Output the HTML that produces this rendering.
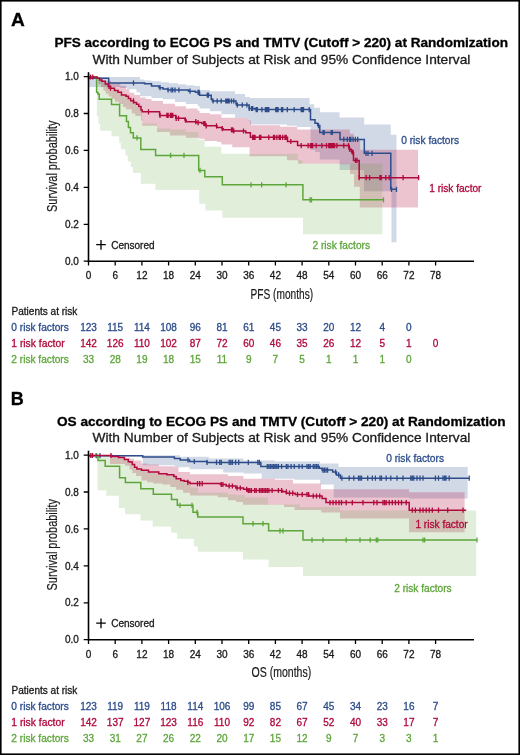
<!DOCTYPE html>
<html><head><meta charset="utf-8"><style>
html,body{margin:0;padding:0;background:#fff;width:520px;height:755px;overflow:hidden}
svg{display:block;will-change:transform}
text{font-family:"Liberation Sans",sans-serif;stroke:#1a1a1a;stroke-width:0.3px}
.t{font-size:10px}
.ti{font-size:12.8px;font-weight:bold;fill:#000;stroke:#000}
.st{font-size:13.2px}
.al{font-size:14px;stroke-width:0.2px}
.cl{font-size:10.2px}
.pl{font-size:18px;font-weight:bold;fill:#000;stroke:#000}
</style></head><body>
<svg width="520" height="755" viewBox="0 0 520 755" fill="#1a1a1a">
<rect x="0.8" y="0.8" width="518.4" height="753.4" fill="#fff" stroke="#000" stroke-width="1.6"/>
<text x="10.9" y="26.4" class="pl" textLength="13.8" lengthAdjust="spacingAndGlyphs">A</text>
<text x="10.8" y="405.2" class="pl">B</text>
<text x="54.4" y="47.2" class="ti" textLength="453.6" lengthAdjust="spacingAndGlyphs">PFS according to ECOG PS and TMTV (Cutoff &gt; 220) at Randomization</text>
<text x="92.5" y="63.8" class="st" textLength="377.9" lengthAdjust="spacingAndGlyphs">With Number of Subjects at Risk and 95% Confidence Interval</text>
<text x="56.9" y="425.7" class="ti" textLength="448.8" lengthAdjust="spacingAndGlyphs">OS according to ECOG PS and TMTV (Cutoff &gt; 220) at Randomization</text>
<text x="92.5" y="442.3" class="st" textLength="377.9" lengthAdjust="spacingAndGlyphs">With Number of Subjects at Risk and 95% Confidence Interval</text>
<path d="M88.5 77.0 L120.0 77.0 L120.0 77.0 L127.0 77.0 L127.0 77.0 L136.5 77.0 L136.5 77.0 L140.0 77.0 L140.0 79.4 L144.6 79.4 L144.6 80.5 L151.5 80.5 L151.5 81.3 L161.0 81.3 L161.0 82.2 L163.0 82.2 L163.0 82.2 L169.0 82.2 L169.0 83.3 L175.0 83.3 L175.0 83.3 L178.0 83.3 L178.0 84.2 L186.0 84.2 L186.0 85.2 L194.0 85.2 L194.0 86.0 L197.7 86.0 L197.7 86.0 L199.6 86.0 L199.6 86.0 L200.0 86.0 L200.0 90.0 L210.0 90.0 L210.0 91.2 L221.5 91.2 L221.5 91.2 L235.0 91.2 L235.0 94.0 L245.0 94.0 L245.0 97.0 L248.0 97.0 L248.0 97.0 L250.0 97.0 L250.0 98.1 L287.0 98.1 L287.0 98.1 L297.0 98.1 L297.0 98.1 L309.6 98.1 L309.6 104.2 L310.6 104.2 L310.6 104.2 L314.2 104.2 L314.2 107.7 L315.2 107.7 L315.2 107.7 L319.8 107.7 L319.8 107.7 L320.0 107.7 L320.0 112.3 L339.6 112.3 L339.6 117.5 L364.0 117.5 L364.0 117.5 L364.2 117.5 L364.2 124.4 L390.8 124.4 L390.8 134.8 L391.5 134.8 L391.5 134.8 L396.5 134.8 L396.5 242.3 L391.5 242.3 L391.5 191.3 L390.8 191.3 L390.8 191.3 L364.2 191.3 L364.2 191.3 L364.0 191.3 L364.0 170.0 L339.6 170.0 L339.6 159.6 L320.0 159.6 L320.0 159.6 L319.8 159.6 L319.8 152.0 L315.2 152.0 L315.2 150.0 L314.2 150.0 L314.2 150.0 L310.6 150.0 L310.6 127.0 L309.6 127.0 L309.6 127.0 L297.0 127.0 L297.0 125.8 L287.0 125.8 L287.0 124.6 L250.0 124.6 L250.0 121.0 L248.0 121.0 L248.0 117.7 L245.0 117.7 L245.0 117.7 L235.0 117.7 L235.0 114.2 L221.5 114.2 L221.5 111.3 L210.0 111.3 L210.0 108.5 L200.0 108.5 L200.0 108.5 L199.6 108.5 L199.6 106.2 L197.7 106.2 L197.7 104.0 L194.0 104.0 L194.0 104.0 L186.0 104.0 L186.0 102.0 L178.0 102.0 L178.0 102.0 L175.0 102.0 L175.0 99.2 L169.0 99.2 L169.0 99.2 L163.0 99.2 L163.0 98.1 L161.0 98.1 L161.0 98.1 L151.5 98.1 L151.5 96.3 L144.6 96.3 L144.6 96.3 L140.0 96.3 L140.0 92.2 L136.5 92.2 L136.5 89.3 L127.0 89.3 L127.0 88.0 L120.0 88.0 L120.0 87.0 L88.5 87.0Z" fill="#2c4c8a" fill-opacity="0.21"/>
<path d="M88.5 77.0 L97.2 77.0 L97.2 78.3 L98.4 78.3 L98.4 78.3 L101.2 78.3 L101.2 78.3 L103.0 78.3 L103.0 80.7 L103.5 80.7 L103.5 80.7 L105.8 80.7 L105.8 80.7 L108.7 80.7 L108.7 80.7 L111.0 80.7 L111.0 83.5 L111.5 83.5 L111.5 83.5 L115.0 83.5 L115.0 83.5 L119.0 83.5 L119.0 83.5 L120.3 83.5 L120.3 85.8 L123.0 85.8 L123.0 85.8 L126.0 85.8 L126.0 89.3 L129.5 89.3 L129.5 92.8 L131.8 92.8 L131.8 92.8 L134.2 92.8 L134.2 95.0 L135.3 95.0 L135.3 95.0 L140.0 95.0 L140.0 97.4 L141.0 97.4 L141.0 97.4 L142.2 97.4 L142.2 97.4 L145.7 97.4 L145.7 99.0 L151.5 99.0 L151.5 101.0 L157.0 101.0 L157.0 101.0 L163.0 101.0 L163.0 103.8 L170.0 103.8 L170.0 103.8 L175.0 103.8 L175.0 106.2 L186.0 106.2 L186.0 108.5 L197.7 108.5 L197.7 110.8 L199.0 110.8 L199.0 110.8 L199.6 110.8 L199.6 113.0 L204.6 113.0 L204.6 113.0 L210.0 113.0 L210.0 114.2 L217.3 114.2 L217.3 114.2 L221.3 114.2 L221.3 114.2 L221.5 114.2 L221.5 117.7 L232.3 117.7 L232.3 117.7 L248.0 117.7 L248.0 120.6 L249.6 120.6 L249.6 120.6 L251.0 120.6 L251.0 125.2 L280.0 125.2 L280.0 126.7 L287.0 126.7 L287.0 126.7 L297.3 126.7 L297.3 129.6 L297.9 129.6 L297.9 129.6 L340.0 129.6 L340.0 129.6 L349.8 129.6 L349.8 133.7 L350.0 133.7 L350.0 133.7 L353.8 133.7 L353.8 138.8 L354.0 138.8 L354.0 138.8 L359.8 138.8 L359.8 138.8 L360.2 138.8 L360.2 149.8 L418.0 149.8 L418.0 207.5 L360.2 207.5 L360.2 207.5 L359.8 207.5 L359.8 186.7 L354.0 186.7 L354.0 174.0 L353.8 174.0 L353.8 174.0 L350.0 174.0 L350.0 164.2 L349.8 164.2 L349.8 164.2 L340.0 164.2 L340.0 163.7 L297.9 163.7 L297.9 160.2 L297.3 160.2 L297.3 160.2 L287.0 160.2 L287.0 156.3 L280.0 156.3 L280.0 156.3 L251.0 156.3 L251.0 156.3 L249.6 156.3 L249.6 147.3 L248.0 147.3 L248.0 147.3 L232.3 147.3 L232.3 144.4 L221.5 144.4 L221.5 144.4 L221.3 144.4 L221.3 142.1 L217.3 142.1 L217.3 141.0 L210.0 141.0 L210.0 141.0 L204.6 141.0 L204.6 138.7 L199.6 138.7 L199.6 138.7 L199.0 138.7 L199.0 137.7 L197.7 137.7 L197.7 137.7 L186.0 137.7 L186.0 135.4 L175.0 135.4 L175.0 135.4 L170.0 135.4 L170.0 132.0 L163.0 132.0 L163.0 132.0 L157.0 132.0 L157.0 125.8 L151.5 125.8 L151.5 125.8 L145.7 125.8 L145.7 125.8 L142.2 125.8 L142.2 120.5 L141.0 120.5 L141.0 116.0 L140.0 116.0 L140.0 116.0 L135.3 116.0 L135.3 113.5 L134.2 113.5 L134.2 113.5 L131.8 113.5 L131.8 109.2 L129.5 109.2 L129.5 109.2 L126.0 109.2 L126.0 106.9 L123.0 106.9 L123.0 104.0 L120.3 104.0 L120.3 104.0 L119.0 104.0 L119.0 101.7 L115.0 101.7 L115.0 98.8 L111.5 98.8 L111.5 96.5 L111.0 96.5 L111.0 96.5 L108.7 96.5 L108.7 93.7 L105.8 93.7 L105.8 90.8 L103.5 90.8 L103.5 87.3 L103.0 87.3 L103.0 87.3 L101.2 87.3 L101.2 84.0 L98.4 84.0 L98.4 77.0 L97.2 77.0 L97.2 77.0 L88.5 77.0Z" fill="#b0093b" fill-opacity="0.24"/>
<path d="M88.5 77.0 L96.9 77.0 L96.9 77.0 L97.0 77.0 L97.0 79.5 L98.5 79.5 L98.5 79.5 L99.5 79.5 L99.5 81.0 L100.0 81.0 L100.0 81.0 L101.8 81.0 L101.8 82.2 L105.3 82.2 L105.3 85.1 L108.2 85.1 L108.2 87.4 L110.5 87.4 L110.5 89.2 L111.5 89.2 L111.5 89.2 L114.5 89.2 L114.5 91.5 L118.0 91.5 L118.0 93.2 L119.2 93.2 L119.2 93.2 L120.8 93.2 L120.8 93.2 L121.5 93.2 L121.5 96.0 L125.4 96.0 L125.4 96.0 L126.0 96.0 L126.0 97.2 L127.7 97.2 L127.7 97.2 L128.4 97.2 L128.4 99.5 L130.7 99.5 L130.7 101.8 L130.8 101.8 L130.8 101.8 L133.0 101.8 L133.0 101.8 L133.6 101.8 L133.6 103.6 L136.5 103.6 L136.5 105.3 L138.8 105.3 L138.8 107.6 L140.8 107.6 L140.8 107.6 L141.0 107.6 L141.0 111.0 L142.2 111.0 L142.2 123.5 L155.4 123.5 L155.4 123.5 L157.0 123.5 L157.0 128.5 L170.0 128.5 L170.0 129.6 L186.0 129.6 L186.0 132.0 L198.5 132.0 L198.5 139.8 L199.2 139.8 L199.2 139.8 L204.6 139.8 L204.6 146.7 L205.4 146.7 L205.4 146.7 L221.3 146.7 L221.3 153.7 L222.3 153.7 L222.3 153.7 L250.0 153.7 L250.0 153.9 L287.0 153.9 L287.0 153.8 L297.9 153.8 L297.9 160.2 L302.5 160.2 L302.5 163.7 L303.0 163.7 L303.0 163.7 L350.0 163.7 L350.0 163.7 L382.3 163.7 L382.3 234.2 L350.0 234.2 L350.0 234.2 L303.0 234.2 L303.0 217.7 L302.5 217.7 L302.5 217.7 L297.9 217.7 L297.9 217.7 L287.0 217.7 L287.0 217.7 L250.0 217.7 L250.0 217.7 L222.3 217.7 L222.3 210.6 L221.3 210.6 L221.3 210.6 L205.4 210.6 L205.4 203.8 L204.6 203.8 L204.6 203.8 L199.2 203.8 L199.2 190.0 L198.5 190.0 L198.5 190.0 L186.0 190.0 L186.0 190.0 L170.0 190.0 L170.0 190.0 L157.0 190.0 L157.0 190.0 L155.4 190.0 L155.4 183.8 L142.2 183.8 L142.2 183.8 L141.0 183.8 L141.0 183.8 L140.8 183.8 L140.8 173.0 L138.8 173.0 L138.8 173.0 L136.5 173.0 L136.5 173.0 L133.6 173.0 L133.6 173.0 L133.0 173.0 L133.0 167.0 L130.8 167.0 L130.8 161.5 L130.7 161.5 L130.7 161.5 L128.4 161.5 L128.4 161.5 L127.7 161.5 L127.7 155.4 L126.0 155.4 L126.0 155.4 L125.4 155.4 L125.4 149.2 L121.5 149.2 L121.5 149.2 L120.8 149.2 L120.8 143.0 L119.2 143.0 L119.2 136.2 L118.0 136.2 L118.0 136.2 L114.5 136.2 L114.5 136.2 L111.5 136.2 L111.5 130.8 L110.5 130.8 L110.5 130.8 L108.2 130.8 L108.2 130.8 L105.3 130.8 L105.3 130.8 L101.8 130.8 L101.8 130.8 L100.0 130.8 L100.0 123.8 L99.5 123.8 L99.5 123.8 L98.5 123.8 L98.5 116.2 L97.0 116.2 L97.0 116.2 L96.9 116.2 L96.9 77.0 L88.5 77.0Z" fill="#5ea63b" fill-opacity="0.19"/>
<path d="M88.5 78.3H108.7 V83.0H144.6 V83.7H151.5 V86.0H159.0 V87.7H163.0 V89.1H167.7 V90.0H188.5 V91.2H195.4 V92.3H199.6 V95.2H211.2 V99.2H212.3 V101.0H236.0 V103.8H236.5 V105.0H249.2 V108.5H255.0 V109.6H310.5 V119.8H315.0 V123.3H317.7 V125.6H319.8 V132.5H340.0 V139.4H364.3 V153.3H390.8 V189.3H397.0" stroke="#2c4c8a" stroke-width="1.5" fill="none"/>
<path d="M133.5 80.4V85.6M160.0 85.1V90.3M168.1 87.4V92.6M171.1 87.4V92.6M172.7 87.4V92.6M175.0 87.4V92.6M178.9 87.4V92.6M190.0 88.6V93.8M198.1 89.7V94.9M199.2 89.7V94.9M207.3 92.6V97.8M208.5 92.6V97.8M213.1 98.4V103.6M217.2 98.4V103.6M221.2 98.4V103.6M225.8 98.4V103.6M226.9 98.4V103.6M228.1 98.4V103.6M229.2 98.4V103.6M231.5 98.4V103.6M233.8 98.4V103.6M237.3 102.4V107.6M242.3 102.4V107.6M246.9 102.4V107.6M249.2 105.9V111.1M251.5 105.9V111.1M252.7 105.9V111.1M256.2 107.0V112.2M257.3 107.0V112.2M261.9 107.0V112.2M265.4 107.0V112.2M266.5 107.0V112.2M267.7 107.0V112.2M268.8 107.0V112.2M275.8 107.0V112.2M276.9 107.0V112.2M278.1 107.0V112.2M281.5 107.0V112.2M282.7 107.0V112.2M287.3 107.0V112.2M294.2 107.0V112.2M301.2 107.0V112.2M302.3 107.0V112.2M303.5 107.0V112.2M309.2 107.0V112.2M318.5 123.0V128.2M323.1 129.9V135.1M324.2 129.9V135.1M331.2 129.9V135.1M332.3 129.9V135.1M343.8 136.8V142.0M347.3 136.8V142.0M349.6 136.8V142.0M350.8 136.8V142.0M353.1 136.8V142.0M355.4 136.8V142.0M357.7 136.8V142.0M366.0 150.7V155.9M368.0 150.7V155.9M372.0 150.7V155.9M391.5 186.7V191.9M396.5 186.7V191.9" stroke="#2c4c8a" stroke-width="1.3" fill="none"/>
<path d="M88.5 77.0H96.6 V92.3H97.8 V94.0H99.2 V99.2H111.5 V104.4H119.6 V115.8H126.5 V121.5H128.4 V127.5H130.5 V132.8H133.3 V137.9H140.8 V149.6H155.6 V155.4H198.7 V170.4H204.8 V176.8H222.3 V184.8H302.9 V199.8H383.8" stroke="#5ea63b" stroke-width="1.5" fill="none"/>
<path d="M137.0 135.3V140.5M170.6 152.8V158.0M184.0 152.8V158.0M200.0 167.8V173.0M251.0 182.2V187.4M261.7 182.2V187.4M286.0 182.2V187.4M310.0 197.2V202.4M311.5 197.2V202.4M383.5 197.2V202.4" stroke="#5ea63b" stroke-width="1.3" fill="none"/>
<path d="M88.5 77.0H97.2 V78.3H99.5 V80.0H101.8 V81.2H105.3 V84.1H108.2 V86.4H110.5 V88.2H114.5 V90.5H118.0 V92.2H121.5 V95.0H126.0 V96.2H128.4 V98.5H130.7 V100.8H133.6 V102.6H136.5 V104.3H138.8 V106.6H141.0 V110.0H142.2 V111.8H159.6 V115.4H175.8 V118.3H185.0 V120.0H186.2 V121.7H196.5 V122.6H201.9 V123.5H205.4 V125.8H216.9 V127.5H222.1 V128.7H223.3 V129.8H233.1 V131.0H245.8 V132.7H250.4 V137.3H287.5 V141.5H297.6 V145.6H349.2 V149.2H351.2 V151.5H352.9 V152.7H353.5 V160.4H359.2 V177.7H419.2" stroke="#b0093b" stroke-width="1.5" fill="none"/>
<path d="M88.5 74.4V79.6M90.5 74.4V79.6M92.8 74.4V79.6M109.0 83.8V89.0M110.5 85.6V90.8M133.5 98.2V103.4M148.5 109.2V114.4M160.0 112.8V118.0M166.9 112.8V118.0M168.1 112.8V118.0M170.4 112.8V118.0M171.5 112.8V118.0M172.7 112.8V118.0M176.2 115.7V120.9M178.5 115.7V120.9M185.4 117.4V122.6M195.8 119.1V124.3M198.1 120.0V125.2M203.8 120.9V126.1M205.0 120.9V126.1M206.2 123.2V128.4M216.5 123.2V128.4M222.3 126.1V131.3M231.5 127.2V132.4M232.7 127.2V132.4M233.8 128.4V133.6M243.5 128.4V133.6M252.7 134.7V139.9M253.8 134.7V139.9M255.0 134.7V139.9M259.6 134.7V139.9M260.8 134.7V139.9M268.8 134.7V139.9M273.5 134.7V139.9M274.6 134.7V139.9M276.9 134.7V139.9M279.2 134.7V139.9M280.4 134.7V139.9M282.7 134.7V139.9M285.0 134.7V139.9M286.2 134.7V139.9M290.8 138.9V144.1M301.2 143.0V148.2M308.1 143.0V148.2M310.4 143.0V148.2M311.5 143.0V148.2M312.7 143.0V148.2M316.2 143.0V148.2M321.9 143.0V148.2M326.5 143.0V148.2M328.8 143.0V148.2M330.0 143.0V148.2M331.2 143.0V148.2M332.3 143.0V148.2M333.5 143.0V148.2M334.6 143.0V148.2M336.9 143.0V148.2M343.8 143.0V148.2M348.5 143.0V148.2M349.6 146.6V151.8M351.9 148.9V154.1M353.1 150.1V155.3M355.5 157.8V163.0M357.0 157.8V163.0M359.2 175.1V180.3M366.2 175.1V180.3M369.6 175.1V180.3M380.0 175.1V180.3M381.2 175.1V180.3M385.8 175.1V180.3M389.2 175.1V180.3M403.1 175.1V180.3M418.6 175.1V180.3" stroke="#b0093b" stroke-width="1.3" fill="none"/>
<path d="M88.3 455.3 L142.7 455.3 L142.7 455.3 L174.4 455.3 L174.4 455.3 L180.0 455.3 L180.0 456.7 L189.6 456.7 L189.6 456.7 L208.8 456.7 L208.8 458.6 L223.3 458.6 L223.3 458.6 L243.5 458.6 L243.5 460.5 L261.7 460.5 L261.7 460.5 L275.0 460.5 L275.0 461.5 L294.2 461.5 L294.2 461.5 L320.2 461.5 L320.2 463.4 L333.7 463.4 L333.7 463.4 L338.5 463.4 L338.5 467.0 L409.0 467.0 L409.0 467.0 L467.7 467.0 L467.7 498.4 L409.0 498.4 L409.0 497.5 L338.5 497.5 L338.5 497.5 L333.7 497.5 L333.7 484.5 L320.2 484.5 L320.2 479.7 L294.2 479.7 L294.2 478.8 L275.0 478.8 L275.0 478.8 L261.7 478.8 L261.7 473.6 L243.5 473.6 L243.5 472.6 L223.3 472.6 L223.3 469.2 L208.8 469.2 L208.8 469.2 L189.6 469.2 L189.6 467.2 L180.0 467.2 L180.0 467.2 L174.4 467.2 L174.4 465.3 L142.7 465.3 L142.7 456.5 L88.3 456.5Z" fill="#2c4c8a" fill-opacity="0.21"/>
<path d="M88.3 455.5 L110.0 455.5 L110.0 455.7 L118.5 455.7 L118.5 456.5 L125.0 456.5 L125.0 457.8 L129.5 457.8 L129.5 457.8 L130.0 457.8 L130.0 458.7 L132.3 458.7 L132.3 458.7 L134.0 458.7 L134.0 460.5 L136.0 460.5 L136.0 460.5 L141.5 460.5 L141.5 463.5 L147.3 463.5 L147.3 464.4 L153.1 464.4 L153.1 464.4 L158.8 464.4 L158.8 466.2 L162.3 466.2 L162.3 466.2 L170.4 466.2 L170.4 466.2 L173.8 466.2 L173.8 467.3 L176.2 467.3 L176.2 467.3 L178.5 467.3 L178.5 471.9 L183.1 471.9 L183.1 471.9 L190.0 471.9 L190.0 474.2 L217.7 474.2 L217.7 474.2 L228.0 474.2 L228.0 475.9 L236.2 475.9 L236.2 475.9 L243.0 475.9 L243.0 475.9 L243.5 475.9 L243.5 478.8 L275.0 478.8 L275.0 479.7 L284.0 479.7 L284.0 479.7 L293.0 479.7 L293.0 483.6 L294.6 483.6 L294.6 483.6 L321.0 483.6 L321.0 489.3 L321.2 489.3 L321.2 489.3 L340.0 489.3 L340.0 489.3 L409.0 489.3 L409.0 492.3 L464.6 492.3 L464.6 532.3 L409.0 532.3 L409.0 518.5 L340.0 518.5 L340.0 512.4 L321.2 512.4 L321.2 510.0 L321.0 510.0 L321.0 510.0 L294.6 510.0 L294.6 507.1 L293.0 507.1 L293.0 507.1 L284.0 507.1 L284.0 504.8 L275.0 504.8 L275.0 504.8 L243.5 504.8 L243.5 504.8 L243.0 504.8 L243.0 502.0 L236.2 502.0 L236.2 500.2 L228.0 500.2 L228.0 497.3 L217.7 497.3 L217.7 495.6 L190.0 495.6 L190.0 492.7 L183.1 492.7 L183.1 489.8 L178.5 489.8 L178.5 489.8 L176.2 489.8 L176.2 486.9 L173.8 486.9 L173.8 486.9 L170.4 486.9 L170.4 484.6 L162.3 484.6 L162.3 483.5 L158.8 483.5 L158.8 483.5 L153.1 483.5 L153.1 482.3 L147.3 482.3 L147.3 480.6 L141.5 480.6 L141.5 475.9 L136.0 475.9 L136.0 473.1 L134.0 473.1 L134.0 473.1 L132.3 473.1 L132.3 469.4 L130.0 469.4 L130.0 469.4 L129.5 469.4 L129.5 465.7 L125.0 465.7 L125.0 463.9 L118.5 463.9 L118.5 463.9 L110.0 463.9 L110.0 455.5 L88.3 455.5Z" fill="#b0093b" fill-opacity="0.24"/>
<path d="M88.3 455.5 L97.5 455.5 L97.5 455.5 L98.0 455.5 L98.0 456.7 L106.2 456.7 L106.2 456.7 L110.0 456.7 L110.0 458.0 L118.5 458.0 L118.5 458.2 L118.8 458.2 L118.8 458.2 L124.4 458.2 L124.4 460.5 L125.0 460.5 L125.0 460.5 L128.3 460.5 L128.3 462.8 L130.0 462.8 L130.0 463.1 L132.3 463.1 L132.3 465.4 L134.6 465.4 L134.6 468.3 L136.9 468.3 L136.9 470.0 L140.4 470.0 L140.4 470.0 L141.5 470.0 L141.5 471.2 L148.5 471.2 L148.5 472.9 L152.7 472.9 L152.7 472.9 L158.8 472.9 L158.8 474.7 L166.9 474.7 L166.9 475.8 L171.2 475.8 L171.2 475.8 L173.8 475.8 L173.8 477.5 L176.2 477.5 L176.2 479.8 L177.3 479.8 L177.3 479.8 L180.8 479.8 L180.8 481.6 L184.2 481.6 L184.2 482.2 L187.7 482.2 L187.7 484.5 L191.0 484.5 L191.0 487.4 L193.8 487.4 L193.8 487.4 L197.8 487.4 L197.8 487.4 L198.0 487.4 L198.0 492.7 L228.0 492.7 L228.0 494.4 L236.0 494.4 L236.0 495.0 L243.0 495.0 L243.0 495.0 L245.0 495.0 L245.0 497.5 L268.0 497.5 L268.0 504.5 L268.6 504.5 L268.6 504.5 L300.0 504.5 L300.0 507.0 L303.0 507.0 L303.0 507.0 L340.0 507.0 L340.0 510.5 L476.2 510.5 L476.2 576.0 L340.0 576.0 L340.0 576.0 L303.0 576.0 L303.0 567.0 L300.0 567.0 L300.0 567.0 L268.6 567.0 L268.6 559.4 L268.0 559.4 L268.0 559.4 L245.0 559.4 L245.0 559.4 L243.0 559.4 L243.0 551.7 L236.0 551.7 L236.0 551.7 L228.0 551.7 L228.0 551.7 L198.0 551.7 L198.0 551.7 L197.8 551.7 L197.8 546.2 L193.8 546.2 L193.8 538.8 L191.0 538.8 L191.0 538.8 L187.7 538.8 L187.7 538.8 L184.2 538.8 L184.2 538.8 L180.8 538.8 L180.8 538.8 L177.3 538.8 L177.3 532.7 L176.2 532.7 L176.2 532.7 L173.8 532.7 L173.8 532.7 L171.2 532.7 L171.2 526.5 L166.9 526.5 L166.9 526.5 L158.8 526.5 L158.8 526.5 L152.7 526.5 L152.7 520.4 L148.5 520.4 L148.5 520.4 L141.5 520.4 L141.5 520.4 L140.4 520.4 L140.4 514.2 L136.9 514.2 L136.9 514.2 L134.6 514.2 L134.6 514.2 L132.3 514.2 L132.3 514.2 L130.0 514.2 L130.0 514.2 L128.3 514.2 L128.3 514.2 L125.0 514.2 L125.0 508.0 L124.4 508.0 L124.4 508.0 L118.8 508.0 L118.8 495.7 L118.5 495.7 L118.5 495.7 L110.0 495.7 L110.0 495.7 L106.2 495.7 L106.2 490.3 L98.0 490.3 L98.0 490.3 L97.5 490.3 L97.5 455.5 L88.3 455.5Z" fill="#5ea63b" fill-opacity="0.19"/>
<path d="M88.3 455.7H142.7 V457.0H174.4 V458.6H180.2 V460.0H189.6 V461.5H207.0 V462.4H260.8 V466.5H319.2 V468.2H322.0 V470.1H332.7 V472.0H336.5 V474.9H340.4 V478.2H469.2" stroke="#2c4c8a" stroke-width="1.5" fill="none"/>
<path d="M96.5 453.1V458.3M100.0 453.1V458.3M188.0 457.4V462.6M194.3 458.9V464.1M207.0 459.8V465.0M216.5 459.8V465.0M219.7 459.8V465.0M221.3 459.8V465.0M229.2 459.8V465.0M230.8 459.8V465.0M232.4 459.8V465.0M235.6 459.8V465.0M238.7 459.8V465.0M248.3 459.8V465.0M257.8 459.8V465.0M259.4 459.8V465.0M267.3 463.9V469.1M268.9 463.9V469.1M270.5 463.9V469.1M272.1 463.9V469.1M273.7 463.9V469.1M275.2 463.9V469.1M276.8 463.9V469.1M278.4 463.9V469.1M281.6 463.9V469.1M286.3 463.9V469.1M287.9 463.9V469.1M291.1 463.9V469.1M294.3 463.9V469.1M299.0 463.9V469.1M302.2 463.9V469.1M307.0 463.9V469.1M308.6 463.9V469.1M310.2 463.9V469.1M313.3 463.9V469.1M314.9 463.9V469.1M316.5 463.9V469.1M318.1 463.9V469.1M322.9 467.5V472.7M324.4 467.5V472.7M326.0 467.5V472.7M327.6 467.5V472.7M335.6 469.4V474.6M338.7 472.3V477.5M341.9 475.6V480.8M349.2 475.6V480.8M353.8 475.6V480.8M358.5 475.6V480.8M360.0 475.6V480.8M361.5 475.6V480.8M367.7 475.6V480.8M372.3 475.6V480.8M375.4 475.6V480.8M380.0 475.6V480.8M381.5 475.6V480.8M386.2 475.6V480.8M390.8 475.6V480.8M397.0 475.6V480.8M403.0 475.6V480.8M410.8 475.6V480.8M412.3 475.6V480.8M413.8 475.6V480.8M417.0 475.6V480.8M420.0 475.6V480.8M423.0 475.6V480.8M435.4 475.6V480.8M438.5 475.6V480.8M443.0 475.6V480.8M444.6 475.6V480.8M446.0 475.6V480.8M449.2 475.6V480.8M469.2 475.6V480.8" stroke="#2c4c8a" stroke-width="1.3" fill="none"/>
<path d="M88.3 455.5H98.0 V460.5H105.2 V466.3H119.6 V477.8H125.4 V482.6H140.8 V488.8H153.3 V494.2H171.5 V499.5H177.3 V505.3H193.0 V512.3H197.8 V516.9H243.0 V523.7H268.6 V530.8H303.0 V540.0H477.0" stroke="#5ea63b" stroke-width="1.5" fill="none"/>
<path d="M96.0 452.9V458.1M180.0 502.7V507.9M192.0 502.7V507.9M197.0 509.7V514.9M253.0 521.1V526.3M263.0 521.1V526.3M280.0 528.2V533.4M283.0 528.2V533.4M312.0 537.4V542.6M323.0 537.4V542.6M346.2 537.4V542.6M360.0 537.4V542.6M370.2 537.4V542.6M376.3 537.4V542.6M377.8 537.4V542.6M423.0 537.4V542.6M424.6 537.4V542.6M477.0 537.4V542.6" stroke="#5ea63b" stroke-width="1.3" fill="none"/>
<path d="M88.3 455.5H112.0 V456.5H118.5 V457.4H124.4 V459.5H128.3 V461.8H130.0 V462.1H132.3 V464.4H134.6 V467.3H136.9 V469.0H141.5 V470.2H148.5 V471.9H158.8 V473.7H166.9 V474.8H173.8 V476.5H176.2 V478.8H180.8 V480.6H184.2 V481.2H187.7 V482.3H190.0 V483.6H220.4 V484.5H226.2 V486.0H235.8 V488.0H243.5 V489.3H247.3 V490.5H282.7 V491.8H286.5 V493.2H295.2 V494.5H308.7 V496.0H322.1 V498.4H326.0 V502.6H409.2 V510.2H466.2" stroke="#b0093b" stroke-width="1.5" fill="none"/>
<path d="M90.8 452.9V458.1M92.5 452.9V458.1M111.0 452.9V458.1M187.9 479.7V484.9M197.5 481.0V486.2M199.7 481.0V486.2M202.2 481.0V486.2M221.3 481.9V487.1M222.9 481.9V487.1M229.2 483.4V488.6M232.4 483.4V488.6M237.1 485.4V490.6M240.3 485.4V490.6M246.7 486.7V491.9M248.3 487.9V493.1M249.8 487.9V493.1M251.4 487.9V493.1M254.6 487.9V493.1M256.2 487.9V493.1M259.4 487.9V493.1M261.0 487.9V493.1M262.5 487.9V493.1M264.1 487.9V493.1M265.7 487.9V493.1M267.3 487.9V493.1M268.9 487.9V493.1M272.1 487.9V493.1M278.4 487.9V493.1M281.6 487.9V493.1M286.3 489.2V494.4M289.5 490.6V495.8M292.7 490.6V495.8M297.5 491.9V497.1M302.2 491.9V497.1M307.0 491.9V497.1M308.6 491.9V497.1M313.3 493.4V498.6M316.5 493.4V498.6M319.7 493.4V498.6M330.0 500.0V505.2M333.0 500.0V505.2M336.0 500.0V505.2M339.0 500.0V505.2M341.5 500.0V505.2M346.2 500.0V505.2M352.3 500.0V505.2M363.0 500.0V505.2M373.8 500.0V505.2M377.0 500.0V505.2M383.0 500.0V505.2M384.6 500.0V505.2M386.2 500.0V505.2M389.2 500.0V505.2M392.3 500.0V505.2M395.4 500.0V505.2M398.5 500.0V505.2M401.5 500.0V505.2M406.2 500.0V505.2M412.3 507.6V512.8M415.4 507.6V512.8M420.0 507.6V512.8M423.0 507.6V512.8M426.2 507.6V512.8M429.2 507.6V512.8M432.3 507.6V512.8M438.5 507.6V512.8M447.7 507.6V512.8M463.0 507.6V512.8" stroke="#b0093b" stroke-width="1.3" fill="none"/>
<path d="M88.5 72.2V262.0" stroke="#000" stroke-width="1.6"/>
<path d="M87.7 261.2H474" stroke="#000" stroke-width="1.6"/>
<path d="M88.5 261.2V265.5M115.2 261.2V265.5M141.9 261.2V265.5M168.6 261.2V265.5M195.3 261.2V265.5M222.0 261.2V265.5M248.7 261.2V265.5M275.4 261.2V265.5M302.1 261.2V265.5M328.8 261.2V265.5M355.5 261.2V265.5M382.2 261.2V265.5M408.9 261.2V265.5M435.6 261.2V265.5M83.7 261.2H88.5M83.7 224.3H88.5M83.7 187.4H88.5M83.7 150.4H88.5M83.7 113.5H88.5M83.7 76.6H88.5" stroke="#000" stroke-width="1.3"/>
<text x="88.5" y="279.4" text-anchor="middle" class="t">0</text>
<text x="115.2" y="279.4" text-anchor="middle" class="t">6</text>
<text x="141.9" y="279.4" text-anchor="middle" class="t">12</text>
<text x="168.6" y="279.4" text-anchor="middle" class="t">18</text>
<text x="195.3" y="279.4" text-anchor="middle" class="t">24</text>
<text x="222.0" y="279.4" text-anchor="middle" class="t">30</text>
<text x="248.7" y="279.4" text-anchor="middle" class="t">36</text>
<text x="275.4" y="279.4" text-anchor="middle" class="t">42</text>
<text x="302.1" y="279.4" text-anchor="middle" class="t">48</text>
<text x="328.8" y="279.4" text-anchor="middle" class="t">54</text>
<text x="355.5" y="279.4" text-anchor="middle" class="t">60</text>
<text x="382.2" y="279.4" text-anchor="middle" class="t">66</text>
<text x="408.9" y="279.4" text-anchor="middle" class="t">72</text>
<text x="435.6" y="279.4" text-anchor="middle" class="t">78</text>
<text x="78.8" y="264.8" text-anchor="end" class="t">0.0</text>
<text x="78.8" y="227.9" text-anchor="end" class="t">0.2</text>
<text x="78.8" y="191.0" text-anchor="end" class="t">0.4</text>
<text x="78.8" y="154.0" text-anchor="end" class="t">0.6</text>
<text x="78.8" y="117.1" text-anchor="end" class="t">0.8</text>
<text x="78.8" y="80.2" text-anchor="end" class="t">1.0</text>
<text x="250.6" y="298.8" class="al" textLength="62.5" lengthAdjust="spacingAndGlyphs">PFS (months)</text>
<text transform="translate(56.7 166.2) rotate(-90)" text-anchor="middle" class="al" textLength="91.4" lengthAdjust="spacingAndGlyphs">Survival probability</text>
<path d="M96.2 244.6H105.8M101 240.0V249.7" stroke="#000" stroke-width="1.3"/>
<text x="111.2" y="248.5" class="t" textLength="43.4" lengthAdjust="spacingAndGlyphs">Censored</text>
<path d="M88.5 450.7V640.5" stroke="#000" stroke-width="1.6"/>
<path d="M87.7 639.7H474" stroke="#000" stroke-width="1.6"/>
<path d="M88.5 639.7V644.0M115.2 639.7V644.0M141.9 639.7V644.0M168.6 639.7V644.0M195.3 639.7V644.0M222.0 639.7V644.0M248.7 639.7V644.0M275.4 639.7V644.0M302.1 639.7V644.0M328.8 639.7V644.0M355.5 639.7V644.0M382.2 639.7V644.0M408.9 639.7V644.0M435.6 639.7V644.0M83.7 639.7H88.5M83.7 602.8H88.5M83.7 565.9H88.5M83.7 528.9H88.5M83.7 492.0H88.5M83.7 455.1H88.5" stroke="#000" stroke-width="1.3"/>
<text x="88.5" y="657.9" text-anchor="middle" class="t">0</text>
<text x="115.2" y="657.9" text-anchor="middle" class="t">6</text>
<text x="141.9" y="657.9" text-anchor="middle" class="t">12</text>
<text x="168.6" y="657.9" text-anchor="middle" class="t">18</text>
<text x="195.3" y="657.9" text-anchor="middle" class="t">24</text>
<text x="222.0" y="657.9" text-anchor="middle" class="t">30</text>
<text x="248.7" y="657.9" text-anchor="middle" class="t">36</text>
<text x="275.4" y="657.9" text-anchor="middle" class="t">42</text>
<text x="302.1" y="657.9" text-anchor="middle" class="t">48</text>
<text x="328.8" y="657.9" text-anchor="middle" class="t">54</text>
<text x="355.5" y="657.9" text-anchor="middle" class="t">60</text>
<text x="382.2" y="657.9" text-anchor="middle" class="t">66</text>
<text x="408.9" y="657.9" text-anchor="middle" class="t">72</text>
<text x="435.6" y="657.9" text-anchor="middle" class="t">78</text>
<text x="78.8" y="643.3" text-anchor="end" class="t">0.0</text>
<text x="78.8" y="606.4" text-anchor="end" class="t">0.2</text>
<text x="78.8" y="569.5" text-anchor="end" class="t">0.4</text>
<text x="78.8" y="532.5" text-anchor="end" class="t">0.6</text>
<text x="78.8" y="495.6" text-anchor="end" class="t">0.8</text>
<text x="78.8" y="458.7" text-anchor="end" class="t">1.0</text>
<text x="251.5" y="677.3" class="al" textLength="59.7" lengthAdjust="spacingAndGlyphs">OS (months)</text>
<text transform="translate(56.7 544.7) rotate(-90)" text-anchor="middle" class="al" textLength="91.4" lengthAdjust="spacingAndGlyphs">Survival probability</text>
<path d="M96.2 623.1H105.8M101 618.5V628.2" stroke="#000" stroke-width="1.3"/>
<text x="111.2" y="627.0" class="t" textLength="43.4" lengthAdjust="spacingAndGlyphs">Censored</text>
<text x="401.2" y="144.3" class="cl" style="fill:#2c4c8a;stroke:#2c4c8a" textLength="57.8" lengthAdjust="spacingAndGlyphs">0 risk factors</text>
<text x="429.2" y="191.8" class="cl" style="fill:#b0093b;stroke:#b0093b" textLength="52.3" lengthAdjust="spacingAndGlyphs">1 risk factor</text>
<text x="312.5" y="248.5" class="cl" style="fill:#5ea63b;stroke:#5ea63b" textLength="57.5" lengthAdjust="spacingAndGlyphs">2 risk factors</text>
<text x="386.2" y="461.5" class="cl" style="fill:#2c4c8a;stroke:#2c4c8a" textLength="57.8" lengthAdjust="spacingAndGlyphs">0 risk factors</text>
<text x="415.4" y="527.7" class="cl" style="fill:#b0093b;stroke:#b0093b" textLength="52.3" lengthAdjust="spacingAndGlyphs">1 risk factor</text>
<text x="394.2" y="592.3" class="cl" style="fill:#5ea63b;stroke:#5ea63b" textLength="57.5" lengthAdjust="spacingAndGlyphs">2 risk factors</text>
<text x="11.5" y="315.0" class="t" textLength="65.9" lengthAdjust="spacingAndGlyphs">Patients at risk</text>
<text x="11.3" y="331.0" class="t" style="fill:#2c4c8a;stroke:#2c4c8a" textLength="57.5" lengthAdjust="spacingAndGlyphs">0 risk factors</text>
<text x="88.5" y="331.0" class="t" text-anchor="middle" style="fill:#2c4c8a;stroke:#2c4c8a">123</text>
<text x="115.2" y="331.0" class="t" text-anchor="middle" style="fill:#2c4c8a;stroke:#2c4c8a">115</text>
<text x="141.9" y="331.0" class="t" text-anchor="middle" style="fill:#2c4c8a;stroke:#2c4c8a">114</text>
<text x="168.6" y="331.0" class="t" text-anchor="middle" style="fill:#2c4c8a;stroke:#2c4c8a">108</text>
<text x="195.3" y="331.0" class="t" text-anchor="middle" style="fill:#2c4c8a;stroke:#2c4c8a">96</text>
<text x="222.0" y="331.0" class="t" text-anchor="middle" style="fill:#2c4c8a;stroke:#2c4c8a">81</text>
<text x="248.7" y="331.0" class="t" text-anchor="middle" style="fill:#2c4c8a;stroke:#2c4c8a">61</text>
<text x="275.4" y="331.0" class="t" text-anchor="middle" style="fill:#2c4c8a;stroke:#2c4c8a">45</text>
<text x="302.1" y="331.0" class="t" text-anchor="middle" style="fill:#2c4c8a;stroke:#2c4c8a">33</text>
<text x="328.8" y="331.0" class="t" text-anchor="middle" style="fill:#2c4c8a;stroke:#2c4c8a">20</text>
<text x="355.5" y="331.0" class="t" text-anchor="middle" style="fill:#2c4c8a;stroke:#2c4c8a">12</text>
<text x="382.2" y="331.0" class="t" text-anchor="middle" style="fill:#2c4c8a;stroke:#2c4c8a">4</text>
<text x="408.9" y="331.0" class="t" text-anchor="middle" style="fill:#2c4c8a;stroke:#2c4c8a">0</text>
<text x="11.3" y="347.0" class="t" style="fill:#b0093b;stroke:#b0093b" textLength="53.3" lengthAdjust="spacingAndGlyphs">1 risk factor</text>
<text x="88.5" y="347.0" class="t" text-anchor="middle" style="fill:#b0093b;stroke:#b0093b">142</text>
<text x="115.2" y="347.0" class="t" text-anchor="middle" style="fill:#b0093b;stroke:#b0093b">126</text>
<text x="141.9" y="347.0" class="t" text-anchor="middle" style="fill:#b0093b;stroke:#b0093b">110</text>
<text x="168.6" y="347.0" class="t" text-anchor="middle" style="fill:#b0093b;stroke:#b0093b">102</text>
<text x="195.3" y="347.0" class="t" text-anchor="middle" style="fill:#b0093b;stroke:#b0093b">87</text>
<text x="222.0" y="347.0" class="t" text-anchor="middle" style="fill:#b0093b;stroke:#b0093b">72</text>
<text x="248.7" y="347.0" class="t" text-anchor="middle" style="fill:#b0093b;stroke:#b0093b">60</text>
<text x="275.4" y="347.0" class="t" text-anchor="middle" style="fill:#b0093b;stroke:#b0093b">46</text>
<text x="302.1" y="347.0" class="t" text-anchor="middle" style="fill:#b0093b;stroke:#b0093b">35</text>
<text x="328.8" y="347.0" class="t" text-anchor="middle" style="fill:#b0093b;stroke:#b0093b">26</text>
<text x="355.5" y="347.0" class="t" text-anchor="middle" style="fill:#b0093b;stroke:#b0093b">12</text>
<text x="382.2" y="347.0" class="t" text-anchor="middle" style="fill:#b0093b;stroke:#b0093b">5</text>
<text x="408.9" y="347.0" class="t" text-anchor="middle" style="fill:#b0093b;stroke:#b0093b">1</text>
<text x="435.6" y="347.0" class="t" text-anchor="middle" style="fill:#b0093b;stroke:#b0093b">0</text>
<text x="11.3" y="363.0" class="t" style="fill:#5ea63b;stroke:#5ea63b" textLength="57.5" lengthAdjust="spacingAndGlyphs">2 risk factors</text>
<text x="88.5" y="363.0" class="t" text-anchor="middle" style="fill:#5ea63b;stroke:#5ea63b">33</text>
<text x="115.2" y="363.0" class="t" text-anchor="middle" style="fill:#5ea63b;stroke:#5ea63b">28</text>
<text x="141.9" y="363.0" class="t" text-anchor="middle" style="fill:#5ea63b;stroke:#5ea63b">19</text>
<text x="168.6" y="363.0" class="t" text-anchor="middle" style="fill:#5ea63b;stroke:#5ea63b">18</text>
<text x="195.3" y="363.0" class="t" text-anchor="middle" style="fill:#5ea63b;stroke:#5ea63b">15</text>
<text x="222.0" y="363.0" class="t" text-anchor="middle" style="fill:#5ea63b;stroke:#5ea63b">11</text>
<text x="248.7" y="363.0" class="t" text-anchor="middle" style="fill:#5ea63b;stroke:#5ea63b">9</text>
<text x="275.4" y="363.0" class="t" text-anchor="middle" style="fill:#5ea63b;stroke:#5ea63b">7</text>
<text x="302.1" y="363.0" class="t" text-anchor="middle" style="fill:#5ea63b;stroke:#5ea63b">5</text>
<text x="328.8" y="363.0" class="t" text-anchor="middle" style="fill:#5ea63b;stroke:#5ea63b">1</text>
<text x="355.5" y="363.0" class="t" text-anchor="middle" style="fill:#5ea63b;stroke:#5ea63b">1</text>
<text x="382.2" y="363.0" class="t" text-anchor="middle" style="fill:#5ea63b;stroke:#5ea63b">1</text>
<text x="408.9" y="363.0" class="t" text-anchor="middle" style="fill:#5ea63b;stroke:#5ea63b">0</text>
<text x="11.5" y="693.5" class="t" textLength="65.9" lengthAdjust="spacingAndGlyphs">Patients at risk</text>
<text x="11.3" y="709.5" class="t" style="fill:#2c4c8a;stroke:#2c4c8a" textLength="57.5" lengthAdjust="spacingAndGlyphs">0 risk factors</text>
<text x="88.5" y="709.5" class="t" text-anchor="middle" style="fill:#2c4c8a;stroke:#2c4c8a">123</text>
<text x="115.2" y="709.5" class="t" text-anchor="middle" style="fill:#2c4c8a;stroke:#2c4c8a">119</text>
<text x="141.9" y="709.5" class="t" text-anchor="middle" style="fill:#2c4c8a;stroke:#2c4c8a">119</text>
<text x="168.6" y="709.5" class="t" text-anchor="middle" style="fill:#2c4c8a;stroke:#2c4c8a">118</text>
<text x="195.3" y="709.5" class="t" text-anchor="middle" style="fill:#2c4c8a;stroke:#2c4c8a">114</text>
<text x="222.0" y="709.5" class="t" text-anchor="middle" style="fill:#2c4c8a;stroke:#2c4c8a">106</text>
<text x="248.7" y="709.5" class="t" text-anchor="middle" style="fill:#2c4c8a;stroke:#2c4c8a">99</text>
<text x="275.4" y="709.5" class="t" text-anchor="middle" style="fill:#2c4c8a;stroke:#2c4c8a">85</text>
<text x="302.1" y="709.5" class="t" text-anchor="middle" style="fill:#2c4c8a;stroke:#2c4c8a">67</text>
<text x="328.8" y="709.5" class="t" text-anchor="middle" style="fill:#2c4c8a;stroke:#2c4c8a">45</text>
<text x="355.5" y="709.5" class="t" text-anchor="middle" style="fill:#2c4c8a;stroke:#2c4c8a">34</text>
<text x="382.2" y="709.5" class="t" text-anchor="middle" style="fill:#2c4c8a;stroke:#2c4c8a">23</text>
<text x="408.9" y="709.5" class="t" text-anchor="middle" style="fill:#2c4c8a;stroke:#2c4c8a">16</text>
<text x="435.6" y="709.5" class="t" text-anchor="middle" style="fill:#2c4c8a;stroke:#2c4c8a">7</text>
<text x="11.3" y="725.5" class="t" style="fill:#b0093b;stroke:#b0093b" textLength="53.3" lengthAdjust="spacingAndGlyphs">1 risk factor</text>
<text x="88.5" y="725.5" class="t" text-anchor="middle" style="fill:#b0093b;stroke:#b0093b">142</text>
<text x="115.2" y="725.5" class="t" text-anchor="middle" style="fill:#b0093b;stroke:#b0093b">137</text>
<text x="141.9" y="725.5" class="t" text-anchor="middle" style="fill:#b0093b;stroke:#b0093b">127</text>
<text x="168.6" y="725.5" class="t" text-anchor="middle" style="fill:#b0093b;stroke:#b0093b">123</text>
<text x="195.3" y="725.5" class="t" text-anchor="middle" style="fill:#b0093b;stroke:#b0093b">116</text>
<text x="222.0" y="725.5" class="t" text-anchor="middle" style="fill:#b0093b;stroke:#b0093b">110</text>
<text x="248.7" y="725.5" class="t" text-anchor="middle" style="fill:#b0093b;stroke:#b0093b">92</text>
<text x="275.4" y="725.5" class="t" text-anchor="middle" style="fill:#b0093b;stroke:#b0093b">82</text>
<text x="302.1" y="725.5" class="t" text-anchor="middle" style="fill:#b0093b;stroke:#b0093b">67</text>
<text x="328.8" y="725.5" class="t" text-anchor="middle" style="fill:#b0093b;stroke:#b0093b">52</text>
<text x="355.5" y="725.5" class="t" text-anchor="middle" style="fill:#b0093b;stroke:#b0093b">40</text>
<text x="382.2" y="725.5" class="t" text-anchor="middle" style="fill:#b0093b;stroke:#b0093b">33</text>
<text x="408.9" y="725.5" class="t" text-anchor="middle" style="fill:#b0093b;stroke:#b0093b">17</text>
<text x="435.6" y="725.5" class="t" text-anchor="middle" style="fill:#b0093b;stroke:#b0093b">7</text>
<text x="11.3" y="741.5" class="t" style="fill:#5ea63b;stroke:#5ea63b" textLength="57.5" lengthAdjust="spacingAndGlyphs">2 risk factors</text>
<text x="88.5" y="741.5" class="t" text-anchor="middle" style="fill:#5ea63b;stroke:#5ea63b">33</text>
<text x="115.2" y="741.5" class="t" text-anchor="middle" style="fill:#5ea63b;stroke:#5ea63b">31</text>
<text x="141.9" y="741.5" class="t" text-anchor="middle" style="fill:#5ea63b;stroke:#5ea63b">27</text>
<text x="168.6" y="741.5" class="t" text-anchor="middle" style="fill:#5ea63b;stroke:#5ea63b">26</text>
<text x="195.3" y="741.5" class="t" text-anchor="middle" style="fill:#5ea63b;stroke:#5ea63b">22</text>
<text x="222.0" y="741.5" class="t" text-anchor="middle" style="fill:#5ea63b;stroke:#5ea63b">20</text>
<text x="248.7" y="741.5" class="t" text-anchor="middle" style="fill:#5ea63b;stroke:#5ea63b">17</text>
<text x="275.4" y="741.5" class="t" text-anchor="middle" style="fill:#5ea63b;stroke:#5ea63b">15</text>
<text x="302.1" y="741.5" class="t" text-anchor="middle" style="fill:#5ea63b;stroke:#5ea63b">12</text>
<text x="328.8" y="741.5" class="t" text-anchor="middle" style="fill:#5ea63b;stroke:#5ea63b">9</text>
<text x="355.5" y="741.5" class="t" text-anchor="middle" style="fill:#5ea63b;stroke:#5ea63b">7</text>
<text x="382.2" y="741.5" class="t" text-anchor="middle" style="fill:#5ea63b;stroke:#5ea63b">3</text>
<text x="408.9" y="741.5" class="t" text-anchor="middle" style="fill:#5ea63b;stroke:#5ea63b">3</text>
<text x="435.6" y="741.5" class="t" text-anchor="middle" style="fill:#5ea63b;stroke:#5ea63b">1</text>
</svg>
</body></html>
